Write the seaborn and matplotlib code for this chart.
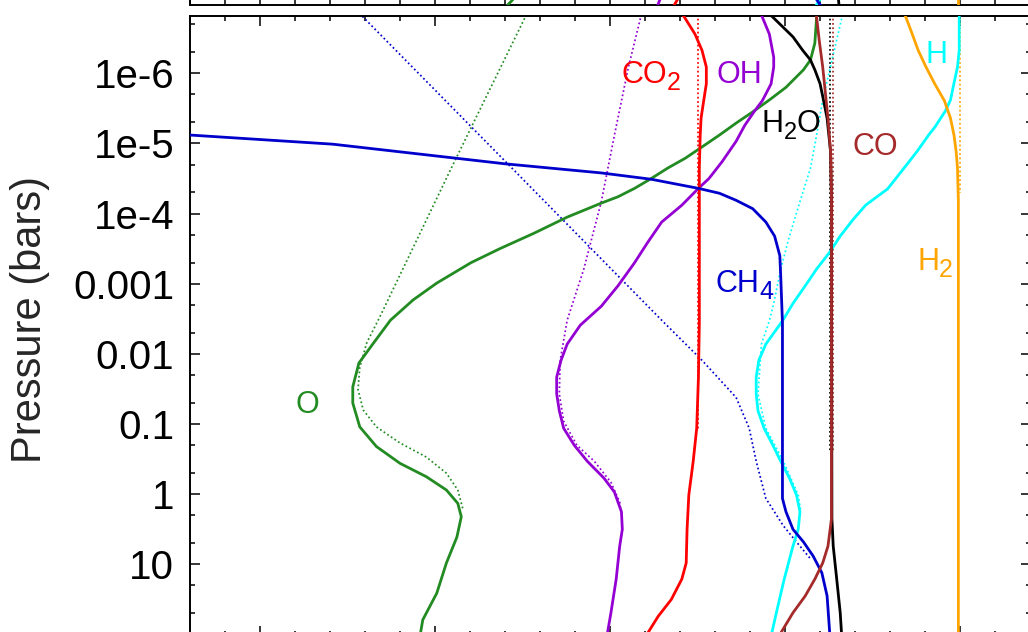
import numpy as np
import pandas as pd
import matplotlib
matplotlib.use("Agg")
import matplotlib.pyplot as plt
import seaborn as sns
from matplotlib.ticker import FixedLocator, FixedFormatter, LogLocator, NullFormatter, MultipleLocator

# ---------------- data (log10 pressure [bar], log10 mixing ratio) ----------------
O_SOLID_LOGP = [-6.90, -6.80, -6.43, -6.19, -6.05, -5.80, -5.62, -5.45, -5.29, -5.12, -4.95, -4.79, -4.65, -4.50,
                -4.36, -4.24, -4.15, -3.95, -3.72, -3.50, -3.30, -3.01, -2.77, -2.48, -2.16, -1.87, -1.53, -1.30,
                -0.96, -0.68, -0.44, -0.25, -0.06, 0.13, 0.32, 0.61, 0.98, 1.41, 1.79, 2.08]
O_SOLID_X = [-1.63, -1.64, -1.66, -1.71, -1.79, -1.99, -2.18, -2.37, -2.56, -2.75, -2.95, -3.14, -3.34, -3.53,
             -3.72, -3.91, -4.10, -4.49, -4.87, -5.26, -5.59, -5.98, -6.25, -6.51, -6.70, -6.87, -6.94, -6.94,
             -6.86, -6.67, -6.40, -6.10, -5.87, -5.74, -5.70, -5.75, -5.87, -5.98, -6.14, -6.18]
O_DOT_LOGP = [-6.90, -6.80, -4.66, -2.53, -2.16, -1.81, -1.49, -1.20, -0.96, -0.73, -0.53, -0.30, -0.06, 0.22]
O_DOT_X = [-4.94, -4.97, -5.81, -6.63, -6.78, -6.86, -6.88, -6.82, -6.67, -6.40, -6.10, -5.87, -5.74, -5.68]

OH_SOLID_LOGP = [-6.90, -6.80, -6.56, -6.23, -6.09, -5.85, -5.61, -5.46, -5.26, -5.03, -4.74, -4.50, -4.36,
                 -4.12, -3.88, -3.59, -3.30, -2.97, -2.68, -2.41, -2.14, -1.91, -1.67, -1.43, -1.19, -0.94,
                 -0.70, -0.47, -0.23, -0.03, 0.25, 0.50, 0.74, 1.21, 1.69, 1.98, 2.08]
OH_SOLID_X = [-2.29, -2.26, -2.18, -2.13, -2.13, -2.16, -2.26, -2.35, -2.46, -2.56, -2.72, -2.87, -2.99,
              -3.18, -3.41, -3.57, -3.72, -3.91, -4.10, -4.34, -4.49, -4.56, -4.61, -4.61, -4.58, -4.53,
              -4.41, -4.26, -4.07, -3.95, -3.87, -3.86, -3.89, -3.93, -3.99, -4.03, -4.04]
OH_DOT_LOGP = [-6.90, -6.80, -6.09, -5.12, -4.17, -3.21, -2.48, -1.91, -1.43, -1.04, -0.70, -0.47, -0.17, 0.11, 0.30]
OH_DOT_X = [-3.62, -3.65, -3.79, -3.95, -4.10, -4.30, -4.49, -4.57, -4.58, -4.53, -4.38, -4.18, -3.99, -3.89, -3.87]

CO2_SOLID_LOGP = [-6.90, -6.80, -6.56, -6.33, -6.09, -5.85, -5.61, -5.36, -5.12, -4.65, -2.44, -1.67, -0.94,
                  -0.47, 0.01, 0.50, 0.98, 1.21, 1.50, 1.74, 1.98, 2.08]
CO2_SOLID_X = [-3.21, -3.15, -3.03, -2.95, -2.90, -2.90, -2.93, -2.96, -2.97, -2.98, -2.98, -2.99, -3.01,
               -3.05, -3.10, -3.12, -3.13, -3.18, -3.30, -3.45, -3.57, -3.61]
CO2_DOT_LOGP = [-6.90, -0.90]
CO2_DOT_X = [-2.99, -2.99]

CH4_SOLID_LOGP = [-5.14, -5.12, -4.99, -4.71, -4.58, -4.49, -4.36, -4.29, -4.19, -4.07, -3.88, -3.68, -3.40,
                  -3.11, -2.44, 0.06, 0.25, 0.50, 0.68, 0.88, 1.12, 1.45, 1.98, 2.08]
CH4_SOLID_X = [-9.03, -8.80, -7.17, -5.20, -4.10, -3.53, -2.99, -2.75, -2.56, -2.37, -2.22, -2.12, -2.06,
               -2.05, -2.03, -2.03, -1.99, -1.91, -1.79, -1.68, -1.58, -1.52, -1.49, -1.48]
CH4_DOT_LOGP = [-6.90, -4.66, -2.48, -1.91, -1.38, -0.94, -0.47, 0.06, 0.45, 0.68, 0.92]
CH4_DOT_X = [-6.90, -5.13, -3.41, -2.95, -2.56, -2.41, -2.33, -2.22, -2.02, -1.87, -1.71]

H2O_SOLID_LOGP = [-6.90, -6.80, -6.52, -6.33, -6.19, -6.05, -5.85, -5.61, -5.36, -5.12, -4.88, -4.19, 0.35,
                  0.74, 1.21, 1.69, 2.08]
H2O_SOLID_X = [-2.22, -2.14, -1.91, -1.80, -1.71, -1.66, -1.60, -1.56, -1.52, -1.50, -1.48, -1.47, -1.465,
               -1.45, -1.41, -1.37, -1.35]
H2O_DOT_LOGP = [-6.90, -0.60]
H2O_DOT_X = [-1.49, -1.49]

CO_SOLID_LOGP = [-6.90, -6.80, -6.47, -6.09, -5.36, -4.88, -4.19, 0.35, 0.74, 0.98, 1.21, 1.45, 1.69, 1.98, 2.08]
CO_SOLID_X = [-1.65, -1.64, -1.61, -1.57, -1.51, -1.48, -1.47, -1.47, -1.51, -1.57, -1.66, -1.77, -1.91, -2.05, -2.09]
CO_DOT_LOGP = [-6.90, -0.60]
CO_DOT_X = [-1.45, -1.45]

H_SOLID_LOGP = [-6.90, -6.80, -6.33, -6.09, -5.86, -5.62, -5.46, -5.23, -5.12, -4.89, -4.65, -4.35, -4.25,
                -4.12, -3.92, -3.68, -3.45, -3.21, -2.97, -2.72, -2.47, -2.14, -1.91, -1.67, -1.43, -1.19, -0.94,
                -0.70, -0.47, -0.23, 0.01, 0.25, 0.50, 0.74, 1.21, 1.69, 2.08]
H_SOLID_X = [-0.01, -0.01, -0.01, -0.03, -0.07, -0.11, -0.17, -0.29, -0.36, -0.49, -0.64, -0.83, -0.94,
             -1.08, -1.22, -1.37, -1.49, -1.64, -1.77, -1.91, -2.03, -2.22, -2.30, -2.33, -2.33, -2.31, -2.24,
             -2.14, -2.05, -1.95, -1.87, -1.83, -1.85, -1.91, -2.01, -2.10, -2.17]
H_DOT_LOGP = [-6.90, -6.80, -5.62, -5.12, -4.65, -4.17, -3.68, -3.21, -2.72, -2.47, -2.14, -1.43, -0.94, -0.47, 0.01, 0.25]
H_DOT_X = [-1.33, -1.35, -1.57, -1.64, -1.71, -1.83, -1.95, -2.05, -2.13, -2.18, -2.27, -2.31, -2.22, -2.02, -1.85, -1.82]

H2_SOLID_LOGP = [-6.90, -6.80, -6.57, -6.33, -6.09, -5.85, -5.61, -5.36, -5.12, -4.88, -4.65, -4.19, 2.08]
H2_SOLID_X = [-0.66, -0.62, -0.55, -0.48, -0.39, -0.29, -0.18, -0.11, -0.07, -0.045, -0.03, -0.02, -0.02]
H2_DOT_LOGP = [-6.90, -4.30]
H2_DOT_X = [0.0, 0.0]

# upper panel (only its lowest sliver is visible)
TOP_LOGP = [1.95, 2.08]
TOP_O_X = [-5.11, -5.21]
TOP_OH_X = [-3.43, -3.47]
TOP_CO2_X = [-3.23, -3.29]
TOP_H_X = [-1.60, -1.67]
TOP_CH4_X = [-1.64, -1.57]
TOP_H2O_X = [-1.39, -1.38]
TOP_H2_X = [-0.02, -0.02]

PRESSURE_TICKS = [1e-6, 1e-5, 1e-4, 1e-3, 1e-2, 1e-1, 1.0, 10.0]
PRESSURE_TICK_LABELS = ["1e-6", "1e-5", "1e-4", "0.001", "0.01", "0.1", "1", "10"]
Y_LABEL = "Pressure (bars)"

COLORS = {"O": "#228B22", "OH": "#9400D3", "CO2": "#FF0000", "CH4": "#0000CD",
          "H2O": "#000000", "CO": "#A52A2A", "H": "#00FFFF", "H2": "#FFA500"}

# ---------------- style ----------------
sns.set_style("ticks")
plt.rcParams["font.family"] = ["Liberation Sans", "DejaVu Sans"]

W, H = 1028, 632
fig = plt.figure(figsize=(W / 100, H / 100), dpi=100)
ax_left = 190 / W
ax_w = (1031 - 190) / W
ax_bottom = (H - 636) / H
ax_h = (636 - 16) / H
ax = fig.add_axes([ax_left, ax_bottom, ax_w, ax_h])
ax_top = fig.add_axes([ax_left, (H - 4.5) / H, ax_w, ax_h])

XLIM = (-8.8, 0.81)
YLIM = (10 ** 2.021, 10 ** -6.817)


def draw(a, logp, x, color, dotted=False, z=2):
    df = pd.DataFrame({"x": x, "p": 10.0 ** np.asarray(logp)})
    if dotted:
        sns.lineplot(data=df, x="x", y="p", sort=False, estimator=None, ax=a, color=color,
                     lw=1.25, linestyle=(0, (1.0, 1.5)), zorder=z, legend=False)
    else:
        sns.lineplot(data=df, x="x", y="p", sort=False, estimator=None, ax=a, color=color,
                     lw=2.0, zorder=z, legend=False, solid_joinstyle="round", solid_capstyle="round")


for a in (ax, ax_top):
    a.set_yscale("log")

# dotted (equilibrium) profiles
draw(ax, O_DOT_LOGP, O_DOT_X, COLORS["O"], dotted=True)
draw(ax, OH_DOT_LOGP, OH_DOT_X, COLORS["OH"], dotted=True)
draw(ax, CO2_DOT_LOGP, CO2_DOT_X, COLORS["CO2"], dotted=True)
draw(ax, CH4_DOT_LOGP, CH4_DOT_X, COLORS["CH4"], dotted=True)
draw(ax, H2O_DOT_LOGP, H2O_DOT_X, COLORS["H2O"], dotted=True)
draw(ax, CO_DOT_LOGP, CO_DOT_X, COLORS["CO"], dotted=True)
draw(ax, H_DOT_LOGP, H_DOT_X, COLORS["H"], dotted=True)
draw(ax, H2_DOT_LOGP, H2_DOT_X, COLORS["H2"], dotted=True)

# solid (kinetics) profiles
draw(ax, H_SOLID_LOGP, H_SOLID_X, COLORS["H"], z=3)
draw(ax, O_SOLID_LOGP, O_SOLID_X, COLORS["O"], z=3)
draw(ax, OH_SOLID_LOGP, OH_SOLID_X, COLORS["OH"], z=3)
draw(ax, CO2_SOLID_LOGP, CO2_SOLID_X, COLORS["CO2"], z=3)
draw(ax, CH4_SOLID_LOGP, CH4_SOLID_X, COLORS["CH4"], z=3)
draw(ax, H2O_SOLID_LOGP, H2O_SOLID_X, COLORS["H2O"], z=3)
draw(ax, CO_SOLID_LOGP, CO_SOLID_X, COLORS["CO"], z=3)
draw(ax, H2_SOLID_LOGP, H2_SOLID_X, COLORS["H2"], z=3)

# upper panel stubs
for xs, key in [(TOP_O_X, "O"), (TOP_OH_X, "OH"), (TOP_CO2_X, "CO2"), (TOP_H_X, "H"),
                (TOP_CH4_X, "CH4"), (TOP_H2O_X, "H2O"), (TOP_H2_X, "H2")]:
    draw(ax_top, TOP_LOGP, xs, COLORS[key], z=3)

for a in (ax, ax_top):
    a.set_xlim(*XLIM)
    a.set_ylim(*YLIM)
    a.set_xlabel("")
    a.set_ylabel("")
    a.xaxis.set_major_locator(MultipleLocator(2))
    a.xaxis.set_minor_locator(MultipleLocator(0.4))
    a.yaxis.set_major_locator(FixedLocator(PRESSURE_TICKS))
    a.yaxis.set_minor_locator(LogLocator(base=10, subs=(2.0, 5.0), numticks=50))
    a.yaxis.set_minor_formatter(NullFormatter())
    a.tick_params(which="both", direction="in", top=True, right=True, bottom=True, left=True,
                  width=1.1, colors="black", labelbottom=False)
    a.tick_params(which="major", length=7.2)
    a.tick_params(which="minor", length=3.6)
    for s in a.spines.values():
        s.set_linewidth(1.4)
        s.set_color("black")
        s.set_visible(True)
    a.set_facecolor("white")

ax.yaxis.set_major_formatter(FixedFormatter(PRESSURE_TICK_LABELS))
ax.tick_params(axis="y", which="major", labelsize=29, pad=11.5)
ax_top.tick_params(labelleft=False)

ax.set_ylabel(Y_LABEL, fontsize=30)
ax.yaxis.set_label_coords(-0.1665, 0.51)


def chem_label(a, x, logp, parts, color, size=22, sub_size=18, sub_drop=5.0):
    y = 10.0 ** logp
    prev = a.text(x, y, parts[0], color=color, fontsize=size, ha="left", va="baseline", zorder=5)
    for i, part in enumerate(parts[1:], start=1):
        is_sub = (i % 2 == 1)
        prev = a.annotate(part, xy=(1, y), xycoords=(prev, "data"),
                          xytext=(0, -sub_drop if is_sub else 0), textcoords="offset points",
                          color=color, fontsize=sub_size if is_sub else size,
                          ha="left", va="baseline", zorder=5)


chem_label(ax, -3.87, -5.86, ["CO", "2"], COLORS["CO2"])
chem_label(ax, -2.78, -5.86, ["OH"], COLORS["OH"])
chem_label(ax, -2.27, -5.16, ["H", "2", "O"], COLORS["H2O"], sub_size=17)
chem_label(ax, -1.23, -4.84, ["CO"], COLORS["CO"])
chem_label(ax, -0.39, -6.15, ["H"], COLORS["H"])
chem_label(ax, -0.49, -3.20, ["H", "2"], COLORS["H2"])
chem_label(ax, -2.79, -2.88, ["CH", "4"], COLORS["CH4"])
chem_label(ax, -7.60, -1.16, ["O"], COLORS["O"])

fig.savefig("out.png", dpi=100)
